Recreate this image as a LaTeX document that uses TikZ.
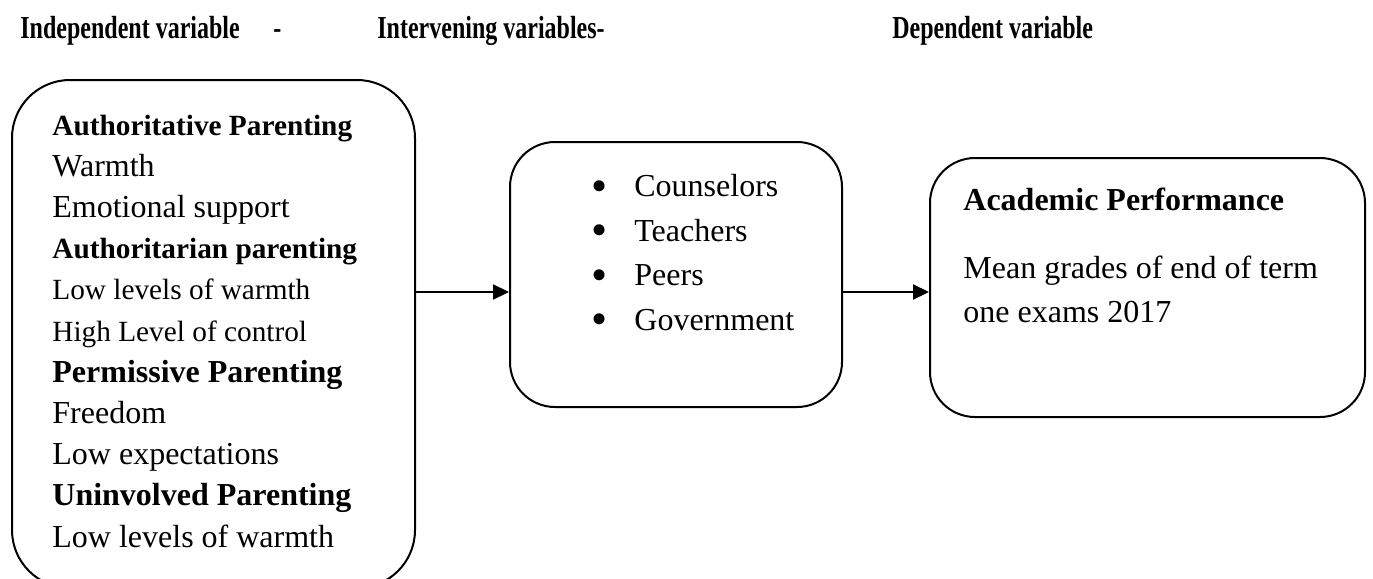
\documentclass[tikz,border=0pt]{standalone}
\usepackage{fontspec}
\setmainfont{Liberation Serif}
\newfontfamily\headfont[FakeStretch=0.75]{Liberation Serif}
\usetikzlibrary{arrows.meta,positioning}
\newcommand{\sizetwelve}{\fontsize{16}{20.6}\selectfont}
\newcommand{\sizeeleven}{\fontsize{14.65}{20.6}\selectfont}
\newcommand{\dotitem}{\makebox[21.5pt][l]{\raisebox{-2.2pt}{\fontsize{23}{0}\selectfont\textbullet}}}
\tikzset{
    varbox/.style={draw, line width=1pt, inner sep=0pt},
    head/.style={anchor=base west, inner sep=0pt, font=\headfont\bfseries\sizetwelve},
    boxtext/.style={anchor=base west, inner sep=0pt, align=left, font=\sizetwelve},
    solidarr/.style={-{Triangle[length=8pt,width=7.5pt]}, line width=1.1pt},
}
\begin{document}
\begin{tikzpicture}[x=0.5pt,y=-0.5pt]
\useasboundingbox (0,0) rectangle (1373,579);
% column headings
\node[head] (ivhead) at (20,38) {Independent variable};
\node[head] (dash) at (273,38) {-};
\node[head] (mvhead) at (377,38) {Intervening variables-};
\node[head] (dvhead) at (892,38) {Dependent variable};

% the three boxes
\node[varbox, rounded corners=29pt, minimum width=201.5pt, minimum height=254pt] (indep) at (213.5,334) {};
\node[varbox, rounded corners=22.5pt, minimum width=166pt, minimum height=132.5pt] (interv) at (676,274.5) {};
\node[varbox, rounded corners=22.5pt, minimum width=217.5pt, minimum height=129.5pt] (dep) at (1147.5,287.5) {};

% base anchor sits on the last line
\node[boxtext] (indeptext) at (52,547) {{\bfseries\sizeeleven Authoritative Parenting}\\
Warmth\\
Emotional support\\
{\bfseries\sizeeleven Authoritarian parenting}\\
{\sizeeleven Low levels of warmth}\\
{\sizeeleven High Level of control}\\
\textbf{Permissive Parenting}\\
Freedom\\
Low expectations\\
\textbf{Uninvolved Parenting}\\
Low levels of warmth};

\node[boxtext, font=\fontsize{16}{22.2}\selectfont] (intervtext) at (591,330) {\dotitem Counselors\\
\dotitem Teachers\\
\dotitem Peers\\
\dotitem Government};

\node[boxtext, font=\bfseries\sizetwelve] (deptitle) at (963,210) {Academic Performance};
\node[boxtext, font=\fontsize{16}{22}\selectfont] (deptext) at (963,322) {Mean grades of end of term\\
one exams 2017};

% flow
\coordinate (flow) at (0,292);
\draw[solidarr] (indep.east |- flow) -- (interv.west |- flow);
\draw[solidarr] (interv.east |- flow) -- (dep.west |- flow);
\end{tikzpicture}
\end{document}
